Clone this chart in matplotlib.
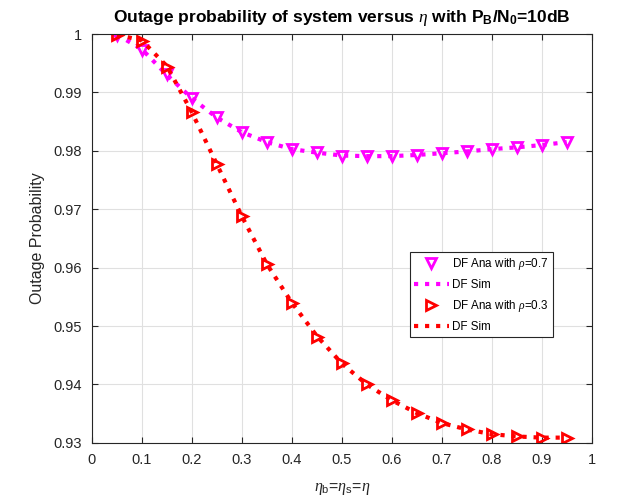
import numpy as np
import matplotlib
matplotlib.use('Agg')
import matplotlib.pyplot as plt
from matplotlib import rc
rc('font', **{'family': 'sans-serif', 'sans-serif': ['Liberation Sans', 'DejaVu Sans']})
rc('mathtext', fontset='custom', rm='Liberation Sans', it='Liberation Serif:italic',
   bf='Liberation Sans:bold')

eta = [0.05, 0.1, 0.15, 0.2, 0.25, 0.3, 0.35, 0.4, 0.45, 0.5,
       0.55, 0.6, 0.65, 0.7, 0.75, 0.8, 0.85, 0.9, 0.95]
# rho = 0.7
ana_07 = [0.9999, 0.9973, 0.9931, 0.9891, 0.9858, 0.9832, 0.9815, 0.9803, 0.9798, 0.9792,
          0.9791, 0.9791, 0.9793, 0.9796, 0.9799, 0.9803, 0.9806, 0.9810, 0.9815]
sim_07 = [0.9999, 0.9974, 0.9930, 0.9890, 0.9857, 0.9832, 0.9815, 0.9803, 0.9797, 0.9792,
          0.9791, 0.9791, 0.9793, 0.9796, 0.9799, 0.9803, 0.9806, 0.9810, 0.9815]
# rho = 0.3
ana_03 = [0.9999, 0.9988, 0.9944, 0.9866, 0.9778, 0.9688, 0.9606, 0.9540, 0.9482, 0.9436,
          0.9400, 0.9373, 0.9351, 0.9334, 0.9323, 0.9315, 0.9311, 0.9309, 0.9309]
sim_03 = [0.9999, 0.9989, 0.9945, 0.9866, 0.9777, 0.9688, 0.9606, 0.9540, 0.9483, 0.9436,
          0.9400, 0.9373, 0.9351, 0.9334, 0.9323, 0.9315, 0.9311, 0.9309, 0.9309]

fig = plt.figure(figsize=(6.17, 5.01), dpi=100)
ax = fig.add_axes([0.149, 0.116, 0.81, 0.816])

ax.plot(eta, ana_07, linestyle='none', marker='v', ms=7.5, mew=2,
        mfc='none', mec='#ff00ff', label=r'DF Ana with $\rho$=0.7')
ax.plot(eta, sim_07, linestyle=':', lw=3, color='#ff00ff', label='DF Sim')
ax.plot(eta, ana_03, linestyle='none', marker='>', ms=7.5, mew=2,
        mfc='none', mec='#ff0000', label=r'DF Ana with $\rho$=0.3')
ax.plot(eta, sim_03, linestyle=':', lw=3, color='#ff0000', label='DF Sim')

ax.set_xlim(0, 1)
ax.set_ylim(0.93, 1)
ax.set_xticks(np.arange(0, 1.01, 0.1))
ax.set_xticklabels(['0', '0.1', '0.2', '0.3', '0.4', '0.5', '0.6', '0.7', '0.8', '0.9', '1'])
ax.set_yticks([0.93, 0.94, 0.95, 0.96, 0.97, 0.98, 0.99, 1])
ax.set_yticklabels(['0.93', '0.94', '0.95', '0.96', '0.97', '0.98', '0.99', '1'])
ax.grid(True, color='#e0e0e0', lw=0.8)
ax.set_axisbelow(True)
ax.tick_params(direction='in', top=True, right=True, labelsize=10.5, colors='#262626',
               length=4, pad=7.5)
for s in ax.spines.values():
    s.set_color('#262626')
    s.set_linewidth(0.8)

ax.set_xlabel(r'$\eta_{\rm b}$=$\eta_{\rm s}$=$\eta$', fontsize=11.5, color='#262626', labelpad=10)
ax.set_ylabel('Outage Probability', fontsize=11.5, color='#262626', labelpad=6)
ax.set_title(r'Outage probability of system versus $\eta$ with P$_{\bf B}$/N$_{\bf 0}$=10dB',
             fontsize=12.5, fontweight='bold', pad=9)

leg = ax.legend(loc='upper left', bbox_to_anchor=(0.636, 0.467), fontsize=8.4,
                fancybox=False, edgecolor='#262626', framealpha=1,
                handlelength=3, handletextpad=0.3, borderpad=0.35, labelspacing=0.6,
                borderaxespad=0)
leg.get_frame().set_linewidth(0.8)

fig.savefig('out.png', dpi=100)
